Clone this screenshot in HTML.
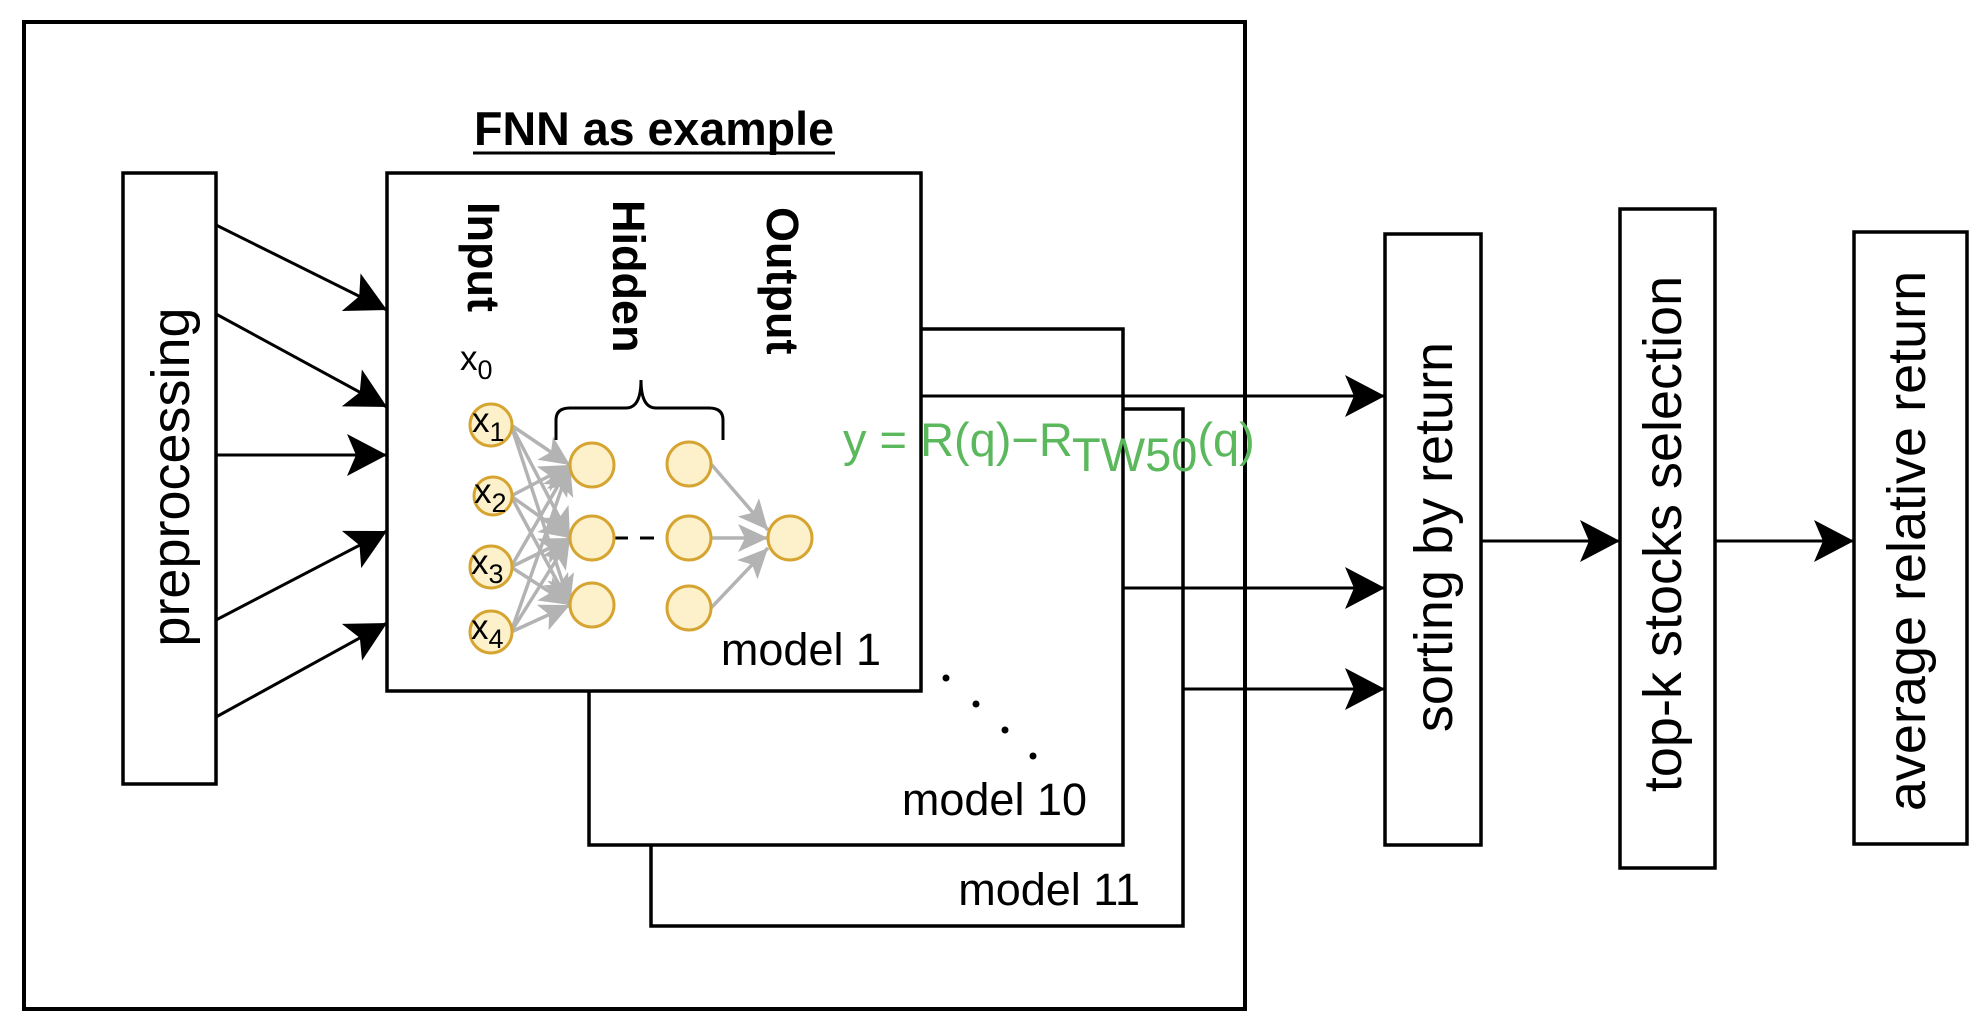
<!DOCTYPE html>
<html><head><meta charset="utf-8"><style>
html,body{margin:0;padding:0;background:#fff;}
svg{display:block;}
text{font-family:"Liberation Sans",Arial,sans-serif;}
</style></head><body>
<svg width="1983" height="1032" viewBox="0 0 1983 1032" xmlns="http://www.w3.org/2000/svg">
<defs>
<marker id="a" markerUnits="userSpaceOnUse" markerWidth="44" markerHeight="44" refX="40" refY="21" orient="auto">
<path d="M0,0 L40,21 L0,42 L9,21 Z" fill="#000"/>
</marker>
<marker id="g" markerUnits="userSpaceOnUse" markerWidth="34" markerHeight="34" refX="30" refY="14" orient="auto">
<path d="M0,0 L30,14 L0,28 L7,14 Z" fill="#b3b3b3"/>
</marker>
</defs>
<g fill="none" stroke="#000" stroke-width="4">
<rect x="24" y="22" width="1221" height="987"/>
<rect x="123" y="173" width="93" height="611" stroke-width="3.5"/>
<rect x="651" y="409" width="532" height="517" fill="#fff" stroke-width="3.5"/>
<rect x="589" y="329" width="534" height="516" fill="#fff" stroke-width="3.5"/>
<rect x="387" y="173" width="534" height="518" fill="#fff" stroke-width="3.5"/>
<rect x="1385" y="234" width="96" height="611" stroke-width="3.5"/>
<rect x="1620" y="209" width="95" height="659" stroke-width="3.5"/>
<rect x="1854" y="232" width="113" height="612" stroke-width="3.5"/>
</g>
<g stroke="#000" stroke-width="3" marker-end="url(#a)">
<line x1="216" y1="225" x2="387" y2="310"/>
<line x1="216" y1="314" x2="387" y2="407"/>
<line x1="216" y1="455" x2="387" y2="455"/>
<line x1="216" y1="620" x2="387" y2="531"/>
<line x1="216" y1="717" x2="387" y2="623"/>
<line x1="921" y1="396" x2="1385" y2="396"/>
<line x1="1123" y1="588" x2="1385" y2="588"/>
<line x1="1183" y1="689" x2="1385" y2="689"/>
<line x1="1481" y1="541" x2="1620" y2="541"/>
<line x1="1715" y1="541" x2="1854" y2="541"/>
</g>
<g fill="#000">
<circle cx="946" cy="678" r="3.5"/><circle cx="976" cy="704" r="3.5"/><circle cx="1005" cy="730" r="3.5"/><circle cx="1033" cy="756" r="3.5"/>
</g>
<g stroke="#b3b3b3" stroke-width="3.5" marker-end="url(#g)">
<line x1="511" y1="425" x2="570" y2="465"/><line x1="511" y1="425" x2="570" y2="538"/><line x1="511" y1="425" x2="570" y2="605"/>
<line x1="511" y1="496" x2="570" y2="465"/><line x1="511" y1="496" x2="570" y2="538"/><line x1="511" y1="496" x2="570" y2="605"/>
<line x1="511" y1="567" x2="570" y2="465"/><line x1="511" y1="567" x2="570" y2="538"/><line x1="511" y1="567" x2="570" y2="605"/>
<line x1="511" y1="632" x2="570" y2="465"/><line x1="511" y1="632" x2="570" y2="538"/><line x1="511" y1="632" x2="570" y2="605"/>
<line x1="711" y1="464" x2="768" y2="530"/><line x1="711" y1="538" x2="768" y2="538"/><line x1="711" y1="608" x2="768" y2="548"/>
</g>
<line x1="614" y1="538" x2="666" y2="538" stroke="#000" stroke-width="3" stroke-dasharray="14,12"/>
<path d="M556,440 L556,420 Q556,408 570,408 L626,408 Q641,408 641,380 Q641,408 656,408 L709,408 Q723,408 723,420 L723,440" fill="none" stroke="#000" stroke-width="3"/>
<g fill="#fdf1cc" stroke="#d6a531" stroke-width="3">
<circle cx="491" cy="425" r="21"/><circle cx="493" cy="496" r="19"/><circle cx="491" cy="567" r="21"/><circle cx="491" cy="632" r="21"/>
<circle cx="592" cy="465" r="22"/><circle cx="592" cy="538" r="22"/><circle cx="592" cy="605" r="22"/>
<circle cx="689" cy="464" r="22"/><circle cx="689" cy="538" r="22"/><circle cx="689" cy="608" r="22"/>
<circle cx="790" cy="538" r="22"/>
</g>
<g font-size="35" fill="#000">
<text x="472" y="432">x<tspan font-size="27" dy="9">1</tspan></text>
<text x="474" y="503">x<tspan font-size="27" dy="9">2</tspan></text>
<text x="471" y="574">x<tspan font-size="27" dy="9">3</tspan></text>
<text x="471" y="639">x<tspan font-size="27" dy="9">4</tspan></text>
<text x="460" y="370">x<tspan font-size="27" dy="9">0</tspan></text>
</g>
<g font-weight="bold" font-size="45" fill="#000">
<text transform="translate(468,202) rotate(90)">Input</text>
<text transform="translate(613,200) rotate(90)">Hidden</text>
<text transform="translate(767,207) rotate(90)">Output</text>
</g>
<text x="654" y="145" text-anchor="middle" font-weight="bold" font-size="47" fill="#000" textLength="360" lengthAdjust="spacingAndGlyphs">FNN as example</text>
<line x1="473" y1="153" x2="835" y2="153" stroke="#000" stroke-width="3"/>
<g font-size="45" fill="#000">
<text x="881" y="665" text-anchor="end">model 1</text>
<text x="1087" y="815" text-anchor="end">model 10</text>
<text x="1140" y="905" text-anchor="end">model 11</text>
</g>
<text x="843" y="456" font-size="47" fill="#5cb85c">y = R(q)−R<tspan dy="15">TW50</tspan><tspan dy="-15">(q)</tspan></text>
<g font-size="54" fill="#000" text-anchor="middle">
<text transform="translate(189,477) rotate(-90)">preprocessing</text>
<text transform="translate(1452,537) rotate(-90)">sorting by return</text>
<text transform="translate(1681,534) rotate(-90)">top-k stocks selection</text>
<text transform="translate(1925,541) rotate(-90)">average relative return</text>
</g>
</svg>
</body></html>
